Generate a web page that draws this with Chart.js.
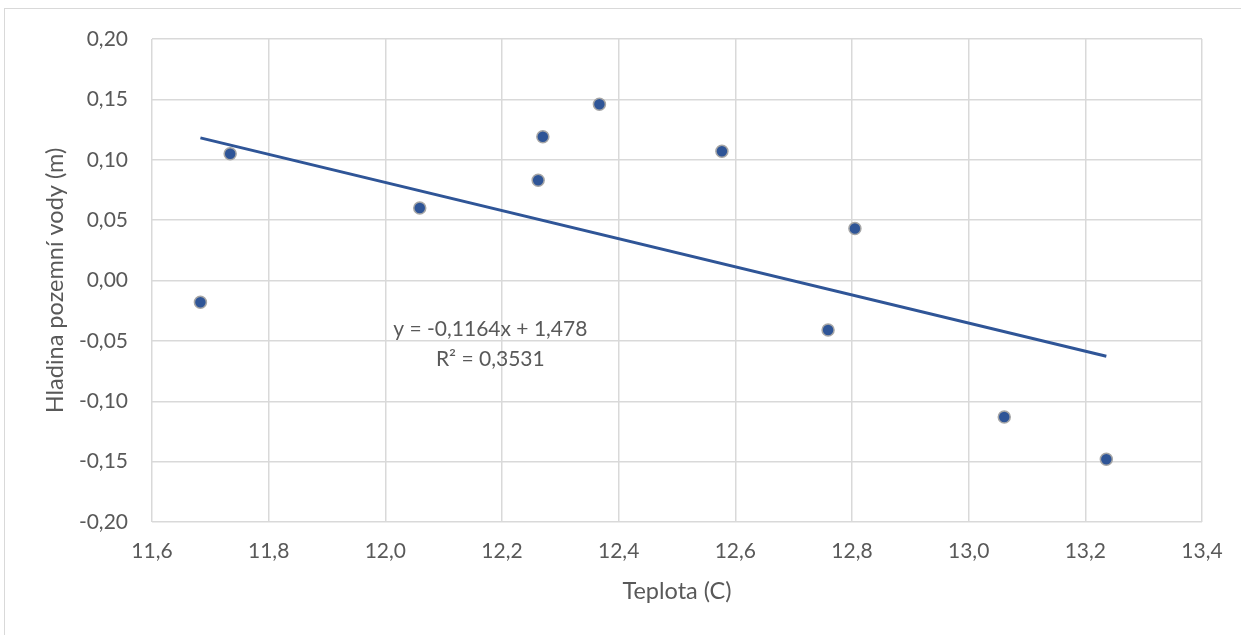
<!DOCTYPE html>
<html>
<head>
<meta charset="utf-8">
<title>Hladina pozemní vody vs. teplota</title>
<script src="https://cdn.jsdelivr.net/npm/chart.js@4"></script>
<style>
  html, body { margin: 0; padding: 0; background: #fff; overflow: hidden; }
  #wrap { position: relative; width: 1241px; height: 635px; overflow: hidden; }
  #frame { position: absolute; left: 4px; top: 8px; width: 1300px; height: 700px; border: 1px solid #d9d9d9; }
  #graf { position: absolute; left: 0; top: 0; }
</style>
</head>
<body>
<div id="wrap">
  <div id="frame"></div>
  <canvas id="graf" width="1241" height="635"></canvas>
</div>
<script>
// naměřené hodnoty: průměrná teplota (C) a změna hladiny podzemní vody (m)
const teplota = [11.683, 11.734, 12.059, 12.262, 12.270, 12.367, 12.577, 12.759, 12.805, 13.061, 13.236];
const hladina = [-0.018, 0.105, 0.060, 0.083, 0.119, 0.146, 0.107, -0.041, 0.043, -0.113, -0.148];

// popisky os
const xTicks = [11.6, 11.8, 12.0, 12.2, 12.4, 12.6, 12.8, 13.0, 13.2, 13.4];
const yTicks = [-0.20, -0.15, -0.10, -0.05, 0.00, 0.05, 0.10, 0.15, 0.20];

// lineární spojnice trendu
const sklon = -0.1164;
const posun = 1.478;
const r2 = 0.3531;

const modra = '#2F5597';
const seda = '#595959';
const mrizka = '#D9D9D9';

const carka = v => String(v).replace('.', ',');

const xMin = Math.min(...teplota);
const xMax = Math.max(...teplota);
const trend = [
    { x: xMin, y: sklon * xMin + posun },
    { x: xMax, y: sklon * xMax + posun }
];

// rovnice trendu vypsaná do grafu
const rovnice = {
    id: 'rovnice',
    afterDatasetsDraw(chart) {
        const { ctx, scales } = chart;
        const x = scales.x.getPixelForValue(12.18);
        const y = scales.y.getPixelForValue(-0.0405);
        ctx.save();
        ctx.font = '21px Lato';
        ctx.fillStyle = seda;
        ctx.textAlign = 'center';
        ctx.textBaseline = 'middle';
        ctx.fillText('y = ' + carka(sklon) + 'x + ' + carka(posun), x, y);
        ctx.fillText('R² = ' + carka(r2), x, y + 30);
        ctx.restore();
    }
};

Chart.defaults.font.family = 'Lato';
Chart.defaults.color = seda;

new Chart(document.getElementById('graf'), {
    type: 'scatter',
    data: {
        datasets: [{
            label: 'Trend',
            type: 'line',
            data: trend,
            borderColor: modra,
            borderWidth: 3,
            pointRadius: 0,
            fill: false,
            order: 0
        }, {
            label: 'Hladina',
            data: teplota.map((t, i) => ({ x: t, y: hladina[i] })),
            backgroundColor: modra,
            borderColor: '#A6A6A6',
            borderWidth: 1.5,
            pointRadius: 6,
            order: 1
        }]
    },
    options: {
        responsive: false,
        animation: false,
        devicePixelRatio: 1,
        layout: { padding: { left: 0, top: 39, right: 39, bottom: 0 } },
        plugins: {
            legend: { display: false },
            tooltip: { enabled: false }
        },
        scales: {
            x: {
                type: 'linear',
                min: 11.6,
                max: 13.4,
                afterBuildTicks: s => { s.ticks = xTicks.map(v => ({ value: v })); },
                afterFit: s => { s.height = 113; },
                ticks: {
                    font: { size: 21 },
                    padding: 17,
                    callback: v => v.toFixed(1).replace('.', ',')
                },
                grid: { color: mrizka, lineWidth: 1.5, drawTicks: false },
                border: { display: false },
                title: {
                    display: true,
                    text: 'Teplota (C)',
                    font: { size: 23.5 },
                    padding: { top: 0, bottom: 29 }
                }
            },
            y: {
                type: 'linear',
                min: -0.2,
                max: 0.2,
                afterBuildTicks: s => { s.ticks = yTicks.map(v => ({ value: v })); },
                afterFit: s => { s.width = 152; },
                ticks: {
                    font: { size: 21 },
                    padding: 24,
                    callback: v => v.toFixed(2).replace('.', ',')
                },
                grid: { color: mrizka, lineWidth: 1.5, drawTicks: false },
                border: { display: false },
                title: {
                    display: true,
                    text: 'Hladina pozemní vody (m)',
                    font: { size: 23.5 },
                    padding: { top: 41, bottom: 0 }
                }
            }
        }
    },
    plugins: [rovnice]
});
</script>
</body>
</html>
